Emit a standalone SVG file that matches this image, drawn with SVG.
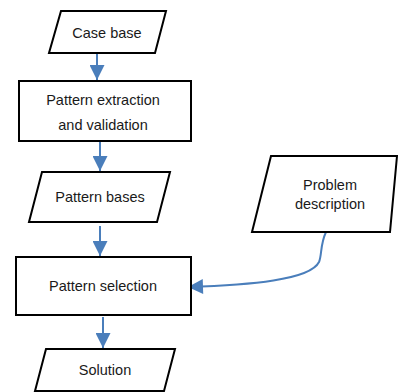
<svg xmlns="http://www.w3.org/2000/svg" width="398" height="392" viewBox="0 0 398 392">
<style>
.s{fill:#fff;stroke:#000;stroke-width:2}
.t{font-family:"Liberation Sans",Arial,sans-serif;font-size:14.5px;fill:#1a1a1a;text-anchor:middle}
.c{stroke:#4A7EBB;stroke-width:2;fill:none}
</style>
<defs>
<marker id="a" viewBox="0 0 10 10" refX="10" refY="5" markerWidth="16" markerHeight="15" markerUnits="userSpaceOnUse" orient="auto">
<path d="M0,0 L10,5 L0,10 Z" fill="#4A7EBB"/>
</marker>
</defs>
<g id="connectors">
<path class="c" d="M97,53 V80" marker-end="url(#a)"/>
<path class="c" d="M100,142 V171" marker-end="url(#a)"/>
<path class="c" d="M100,226 V256" marker-end="url(#a)"/>
<path class="c" d="M103,317 V348" marker-end="url(#a)"/>
<path class="c" d="M326,232 C320,245 322,255 319,262 C310,280 250,285 188,287" marker-end="url(#a)"/>
</g>
<g id="case-base">
<polygon class="s" points="61,11 166,11 155,53 49,53"/>
<text class="t" x="107" y="38">Case base</text>
</g>
<g id="pattern-extraction">
<rect class="s" x="19" y="81" width="172" height="60"/>
<text class="t" x="103" y="105">Pattern extraction</text>
<text class="t" x="103" y="130">and validation</text>
</g>
<g id="pattern-bases">
<polygon class="s" points="42,172 170,172 157,222 29,222"/>
<text class="t" x="100" y="202">Pattern bases</text>
</g>
<g id="pattern-selection">
<rect class="s" x="16" y="257" width="175" height="58"/>
<text class="t" x="103" y="291">Pattern selection</text>
</g>
<g id="problem-description">
<polygon class="s" points="271,156 397,156 390,232 252,232"/>
<text class="t" x="330" y="190">Problem</text>
<text class="t" x="330" y="209">description</text>
</g>
<g id="solution">
<polygon class="s" points="46,349 175,349 164,391 35,391"/>
<text class="t" x="105" y="375">Solution</text>
</g>
</svg>
